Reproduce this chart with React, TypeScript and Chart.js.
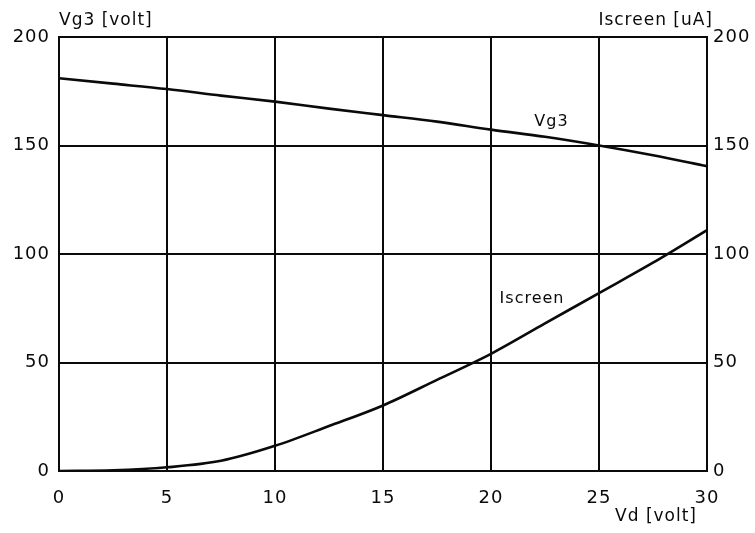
import React, { useEffect, useRef } from "react";
import { Chart, registerables } from "chart.js";

Chart.register(...registerables);

const vd = [0, 2.5, 5, 7.5, 10, 12.5, 15, 17.5, 20, 22.5, 25, 27.5, 30];
const vg3 = [181, 178.5, 176, 173, 170.2, 167, 164, 161, 157.3, 154, 150, 145.5, 140.5];
const iscreen = [0, 0.3, 1.7, 4.7, 11.6, 20.7, 30.2, 42, 54, 68, 82, 96, 111];
const yTicks = [0, 50, 100, 150, 200];
const xTicks = [0, 5, 10, 15, 20, 25, 30];
const leftTitle = "Vg3 [volt]";
const rightTitle = "Iscreen [uA]";
const xTitle = "Vd [volt]";
const curveLabels = [
  { text: "Vg3", x: 22.8, y: 160.8 },
  { text: "Iscreen", x: 21.9, y: 79.5 },
];

const FONT = "'DejaVu Sans', sans-serif";
const INK = "#0a0a0a";

const spacingPlugin = {
  id: "spacing",
  beforeDraw(chart: any) {
    (chart.ctx as any).letterSpacing = "1px";
  },
};

const textPlugin = {
  id: "texts",
  afterDraw(chart: any) {
    const ctx = chart.ctx;
    const xs = chart.scales.x;
    const ys = chart.scales.y;
    ctx.save();
    (ctx as any).letterSpacing = "1px";
    ctx.fillStyle = INK;
    ctx.textBaseline = "middle";
    ctx.font = `17px ${FONT}`;
    ctx.textAlign = "left";
    ctx.fillText(leftTitle, 59, 21);
    ctx.textAlign = "right";
    ctx.fillText(rightTitle, 713, 21);
    ctx.fillText(xTitle, 697, 517);
    ctx.font = `16px ${FONT}`;
    ctx.textAlign = "center";
    for (const l of curveLabels) {
      ctx.fillText(l.text, xs.getPixelForValue(l.x), ys.getPixelForValue(l.y));
    }
    ctx.restore();
  },
};

export default function App() {
  const ref = useRef<HTMLCanvasElement>(null);
  useEffect(() => {
    document.body.style.margin = "0";
    const ctx = ref.current!;
    const chart = new Chart(ctx, {
      type: "line",
      data: {
        datasets: [
          {
            label: "Vg3",
            data: vd.map((x, i) => ({ x, y: vg3[i] })),
            borderColor: INK,
            borderWidth: 2.6,
            pointRadius: 0,
            cubicInterpolationMode: "monotone",
            yAxisID: "y",
          },
          {
            label: "Iscreen",
            data: vd.map((x, i) => ({ x, y: iscreen[i] })),
            borderColor: INK,
            borderWidth: 2.6,
            pointRadius: 0,
            cubicInterpolationMode: "monotone",
            yAxisID: "y2",
          },
        ],
      },
      options: {
        animation: false,
        responsive: false,
        maintainAspectRatio: false,
        layout: { padding: { top: 37, left: 0, right: 0, bottom: 0 } },
        plugins: { legend: { display: false }, tooltip: { enabled: false } },
        scales: {
          x: {
            type: "linear",
            min: 0,
            max: 30,
            afterBuildTicks: (s: any) => {
              s.ticks = xTicks.map((v) => ({ value: v }));
            },
            afterFit: (s: any) => {
              s.height = 62;
            },
            grid: { color: INK, lineWidth: 2, drawTicks: false },
            border: { color: INK, width: 2 },
            ticks: { color: INK, font: { family: FONT, size: 18 }, padding: 17 },
          },
          y: {
            type: "linear",
            position: "left",
            min: 0,
            max: 200,
            afterBuildTicks: (s: any) => {
              s.ticks = yTicks.map((v) => ({ value: v }));
            },
            afterFit: (s: any) => {
              s.width = 59;
            },
            grid: { color: INK, lineWidth: 2, drawTicks: false },
            border: { color: INK, width: 2 },
            ticks: { color: INK, font: { family: FONT, size: 18 }, padding: 9 },
          },
          y2: {
            type: "linear",
            position: "right",
            min: 0,
            max: 200,
            afterBuildTicks: (s: any) => {
              s.ticks = yTicks.map((v) => ({ value: v }));
            },
            afterFit: (s: any) => {
              s.width = 48;
            },
            grid: { display: false, drawTicks: false },
            border: { color: INK, width: 2 },
            ticks: { color: INK, font: { family: FONT, size: 18 }, padding: 6 },
          },
        },
      },
      plugins: [spacingPlugin, textPlugin],
    } as any);
    return () => chart.destroy();
  }, []);
  return (
    <div style={{ width: 755, height: 533, background: "#fff" }}>
      <canvas ref={ref} width={755} height={533} />
    </div>
  );
}
